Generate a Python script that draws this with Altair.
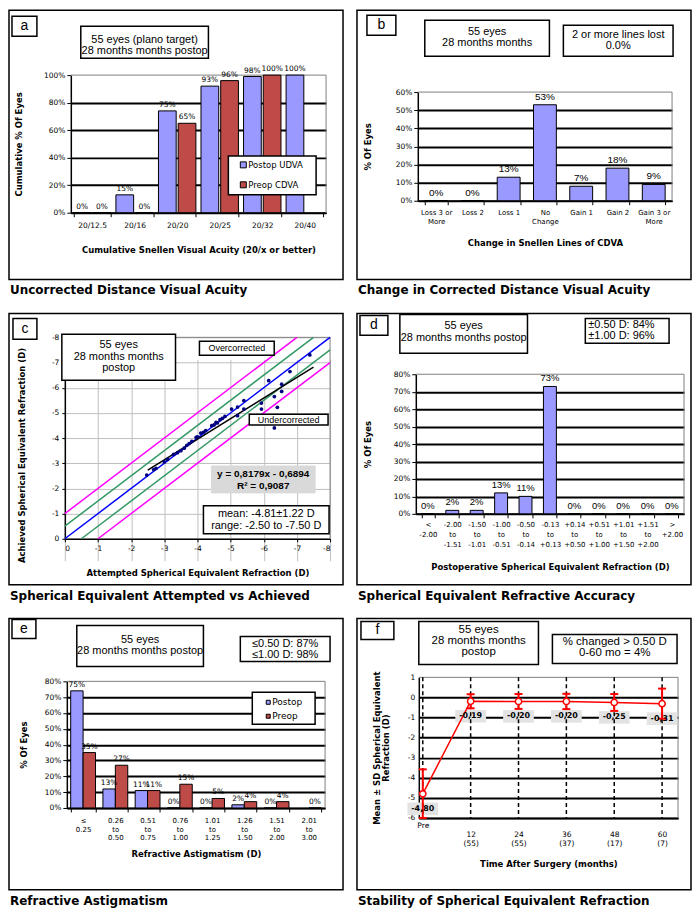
import altair as alt
import pandas as pd

BLUE = "#9999FF"
RED = "#BE4B48"
SANS = "Liberation Sans"
VER = "DejaVu Sans"
SERIES = ["Postop", "Preop"]

# ---------------- data ----------------
A_CATS = ["20/12.5", "20/16", "20/20", "20/25", "20/32", "20/40"]
A_POSTOP = [0, 13, 74, 92, 99, 100]
A_PREOP = [0, 0, 65, 96, 100, None]
A_POSTOP_LAB = ["0%", "15%", "75%", "93%", "98%", "100%"]
A_PREOP_LAB = ["0%", "0%", "65%", "96%", "100%", ""]

B_CATS = ["Loss 3 or|More", "Loss 2", "Loss 1", "No|Change", "Gain 1", "Gain 2", "Gain 3 or|More"]
B_VALS = [0, 0, 13, 53, 8, 18, 9]
B_LAB = ["0%", "0%", "13%", "53%", "7%", "18%", "9%"]

C_ATT = [-2.47, -2.68, -2.75, -3.00, -3.10, -3.28, -3.40, -3.50, -3.60, -3.68,
         -3.75, -3.83, -3.96, -4.00, -4.10, -4.18, -4.25, -4.43, -4.50, -4.56,
         -4.60, -4.68, -4.75, -4.83, -5.03, -5.21, -5.21, -5.40, -5.40, -5.93,
         -5.93, -6.15, -6.32, -6.41, -6.32, -6.54, -6.54, -6.79, -7.39]
C_ACH = [-2.53, -2.75, -2.80, -3.05, -3.15, -3.35, -3.42, -3.50, -3.60, -3.71,
         -3.78, -3.87, -4.03, -4.05, -4.20, -4.23, -4.30, -4.49, -4.52, -4.62,
         -4.60, -4.73, -4.78, -4.86, -5.15, -5.23, -4.89, -5.49, -5.15, -5.39,
         -5.15, -6.28, -5.65, -5.22, -4.40, -6.14, -5.85, -6.64, -7.30]
C_TREND_X = [-2.5, -7.5]
C_TREND_Y = [-2.73, -6.82]
C_LINES = [
    ("blue", "#0000FF", [0, -8], [0, -8]),
    ("g1", "#339966", [0, -7.5], [-0.5, -8]),
    ("g2", "#339966", [-0.5, -8], [0, -7.5]),
    ("m1", "#FF00FF", [0, -7], [-1, -8]),
    ("m2", "#FF00FF", [-1, -8], [0, -7]),
]
C_TICKS = [0, -1, -2, -3, -4, -5, -6, -7, -8]

D_CATS = ["<|-2.00", "-2.00|to|-1.51", "-1.50|to|-1.01", "-1.00|to|-0.51", "-0.50|to|-0.14",
          "-0.13|to|+0.13", "+0.14|to|+0.50", "+0.51|to|+1.00", "+1.01|to|+1.50",
          "+1.51|to|+2.00", ">|+2.00"]
D_VALS = [0, 2, 2, 12, 10, 73, 0, 0, 0, 0, 0]
D_LAB = ["0%", "2%", "2%", "13%", "11%", "73%", "0%", "0%", "0%", "0%", "0%"]

E_CATS = ["≤|0.25", "0.26|to|0.50", "0.51|to|0.75", "0.76|to|1.00", "1.01|to|1.25",
          "1.26|to|1.50", "1.51|to|2.00", "2.01|to|3.00"]
E_POSTOP = [74, 12, 11, 0, 0, 2, 0, None]
E_PREOP = [35, 27, 11, 15, 6, 4, 4, 0]
E_POSTOP_LAB = ["75%", "13%", "11%", "0%", "0%", "2%", "0%", ""]
E_PREOP_LAB = ["35%", "27%", "11%", "15%", "5%", "4%", "4%", "0%"]

F_MONTHS = [0, 12, 24, 36, 48, 60]
F_N = [None, 55, 55, 37, 17, 7]
F_MEAN = [-4.80, -0.19, -0.20, -0.20, -0.25, -0.31]
F_SD = [1.22, 0.35, 0.37, 0.38, 0.42, 0.75]
F_LAB = ["-4,80", "-0,19", "-0,20", "-0,20", "-0,25", "-0,31"]
F_YTICKS = [1, 0, -1, -2, -3, -4, -5, -6]

ONE = pd.DataFrame({"k": [0]})
PW = 335  # panel (frame) width


# ---------------- helpers ----------------
def rbox(x0, y0, x1, y1, fill="white", stroke="black", sw=1.0):
    return alt.Chart(ONE).mark_rect(fill=fill, stroke=stroke, strokeWidth=sw).encode(
        x=alt.value(x0), x2=alt.value(x1), y=alt.value(y0), y2=alt.value(y1))


def hline(x0, x1, y, color="#808080", sw=1.0):
    return alt.Chart(ONE).mark_rule(color=color, strokeWidth=sw).encode(
        x=alt.value(x0), x2=alt.value(x1), y=alt.value(y))


def vline(x, y0, y1, color="#808080", sw=1.0):
    return alt.Chart(ONE).mark_rule(color=color, strokeWidth=sw).encode(
        x=alt.value(x), y=alt.value(y0), y2=alt.value(y1))


def plot_border(x0, x1, y0, y1):
    return [hline(x0, x1, y0), vline(x1, y0, y1)]


def txt(x, y, lines, size=11, font=SANS, weight="normal", align="center", lh=None, color="black"):
    lh = lh if lh else size * 1.05
    out = []
    for i, s in enumerate(lines):
        out.append(alt.Chart(ONE).mark_text(fontSize=size, font=font, fontWeight=weight, align=align,
                                            baseline="middle", color=color).encode(
            x=alt.value(x), y=alt.value(y + i * lh), text=alt.value(s)))
    return out


def ptitle(H, title):
    return alt.Chart(ONE).mark_text(font=VER, fontSize=12, fontWeight="bold", align="left",
                                    baseline="alphabetic", color="black").encode(
        x=alt.value(1), y=alt.value(H + 15), text=alt.value(title))


def letter(x0, y0, x1, y1, ch):
    return [rbox(x0, y0, x1, y1, sw=1.5)] + txt((x0 + x1) / 2, (y0 + y1) / 2, [ch], size=14)


AXC = dict(labelFont=VER, labelColor="black", titleFont=VER, titleFontSize=8.5,
           titleFontWeight="bold", titleColor="black", domainColor="black", tickColor="black")


def pct_axis(title, vals, left, tx, ty, top):
    return alt.Axis(values=vals, labelExpr="datum.value + '%'", labelFontSize=7.5, grid=True,
                    gridColor="black", gridWidth=2,
                    gridOpacity=alt.condition(f"datum.value >= {top}", alt.value(0), alt.value(1)),
                    tickSize=4, labelPadding=2, title=title, titleX=tx, titleY=ty, titleAngle=270,
                    titleBaseline="middle", titleAlign="center", domainWidth=1.5, offset=-left, **AXC)


def band_axis(title, off, ty, pad, size=7.5, lh=9):
    return alt.Axis(title=title, titleY=ty, titleBaseline="middle", labelAngle=0, labelPadding=pad,
                    labelExpr="split(datum.label, '|')", labelLineHeight=lh, labelOverlap=False,
                    tickBand="extent", tickSize=4, domainWidth=1.5, labelFontSize=size, grid=False,
                    offset=off, **AXC)


col = alt.Color("series:N", scale=alt.Scale(domain=SERIES, range=[BLUE, RED]), legend=None)

# ---------------- panel a ----------------
HA = 270
AX0, AX1, AY0, AY1 = 62, 318, 65, 203
a_df = pd.DataFrame({"cat": A_CATS + A_CATS, "series": ["Postop"] * 6 + ["Preop"] * 6,
                     "val": A_POSTOP + A_PREOP, "lab": A_POSTOP_LAB + A_PREOP_LAB})
xa = alt.X("cat:N", sort=A_CATS, scale=alt.Scale(range=[AX0, AX1], paddingInner=0.12, paddingOuter=0.06),
           axis=band_axis("Cumulative Snellen Visual Acuity (20/x or better)", AY1 - HA, 37, 5))
xoa = alt.XOffset("series:N", scale=alt.Scale(domain=SERIES, paddingInner=0.1))
ya = alt.Y("val:Q", scale=alt.Scale(domain=[0, 100], nice=False, range=[AY1, AY0]),
           axis=pct_axis("Cumulative % Of Eyes", [0, 20, 40, 60, 80, 100], AX0, -52,
                         (AY0 + AY1) / 2, 100))
base_a = alt.Chart(a_df).transform_filter("isValid(datum.val)")
pa = alt.layer(
    *plot_border(AX0, AX1, AY0, AY1),
    base_a.mark_bar(stroke="black", strokeWidth=1).encode(x=xa, xOffset=xoa, y=ya, color=col),
    base_a.mark_text(font=VER, fontSize=7.5, baseline="bottom", dy=-2, color="black").encode(
        x=xa, xOffset=xoa, y=ya, text="lab:N"),
    ptitle(HA, "Uncorrected Distance Visual Acuity"),
    *letter(3, 6, 28, 26, "a"),
    rbox(72, 16, 200, 48, sw=1.5),
    *txt(136, 30, ["55 eyes (plano target)", "28 months months postop"], lh=11),
    rbox(220, 146, 308, 185, sw=1.5),
    rbox(232, 152, 238, 158, fill=BLUE),
    rbox(232, 172, 238, 178, fill=RED),
    *txt(240, 155, ["Postop UDVA"], size=8.5, font=VER, align="left"),
    *txt(240, 175, ["Preop CDVA"], size=8.5, font=VER, align="left"),
).properties(width=PW, height=HA)

# ---------------- panel b ----------------
HB = 270
BX0, BX1, BY0, BY1 = 61, 316, 82, 191
b_df = pd.DataFrame({"cat": B_CATS, "val": B_VALS, "lab": B_LAB})
xb = alt.X("cat:N", sort=B_CATS, scale=alt.Scale(range=[BX0, BX1], paddingInner=0.37, paddingOuter=0.19),
           axis=band_axis("Change in Snellen Lines of CDVA", BY1 - HB, 42, 4, size=7, lh=8.5))
yb = alt.Y("val:Q", scale=alt.Scale(domain=[0, 60], nice=False, range=[BY1, BY0]),
           axis=pct_axis("% Of Eyes", [0, 10, 20, 30, 40, 50, 60], BX0, -50, (BY0 + BY1) / 2, 60))
pb = alt.layer(
    *plot_border(BX0, BX1, BY0, BY1),
    alt.Chart(b_df).mark_bar(stroke="black", strokeWidth=1, color=BLUE).encode(x=xb, y=yb),
    alt.Chart(b_df).mark_text(font=SANS, fontSize=10, baseline="bottom", dy=-3, color="black").encode(
        x=xb, y=yb, text="lab:N"),
    ptitle(HB, "Change in Corrected Distance Visual Acuity"),
    *letter(10, 5, 39, 25, "b"),
    rbox(68, 10, 193, 46, sw=1.5),
    *txt(130.5, 22, ["55 eyes", "28 months months"], lh=11),
    rbox(207, 15, 317, 46, sw=1.5),
    *txt(262, 25, ["2 or more lines lost", "0.0%"], lh=11),
).properties(width=PW, height=HB)

# ---------------- panel c ----------------
HC = 272
CX0, CX1, CY0, CY1 = 56, 322, 24, 226
c_pts = pd.DataFrame({"att": C_ATT, "ach": C_ACH})
rows = []
for name, colr, xs, ys in C_LINES:
    for xv, yv in zip(xs, ys):
        rows.append({"grp": name, "col": colr, "att": xv, "ach": yv})
c_lines = pd.DataFrame(rows)
c_trend = pd.DataFrame({"att": C_TREND_X, "ach": C_TREND_Y})
cax = dict(values=C_TICKS, labelExpr="'' + datum.value", labelFontSize=7.5, grid=True,
           gridColor="#BFBFBF", gridWidth=1, tickSize=3, labelPadding=3, domainWidth=1.5, **AXC)
xc = alt.X("att:Q", scale=alt.Scale(domain=[0, -8], nice=False, zero=False, range=[CX0, CX1]),
           axis=alt.Axis(title="Attempted Spherical Equivalent Refraction (D)", titleY=34,
                         titleBaseline="middle", offset=CY1 - HC, **cax))
yc = alt.Y("ach:Q", scale=alt.Scale(domain=[0, -8], nice=False, zero=False, range=[CY1, CY0]),
           axis=alt.Axis(title="Achieved Spherical Equivalent Refraction (D)", titleX=-43,
                         titleY=CY0 + 118, titleAngle=270, titleBaseline="middle", titleAlign="center",
                         offset=-CX0, **cax))
line_layers = []
for colr in ["#339966", "#FF00FF", "#0000FF"]:
    line_layers.append(alt.Chart(c_lines).transform_filter(f"datum.col == '{colr}'").mark_line(
        color=colr, strokeWidth=1.5).encode(x=xc, y=yc, detail="grp:N"))
pc = alt.layer(
    *plot_border(CX0, CX1, CY0, CY1),
    *line_layers,
    alt.Chart(c_trend).mark_line(color="black", strokeWidth=1.5).encode(x=xc, y=yc),
    alt.Chart(c_pts).mark_circle(size=14, color="#000080", opacity=1).encode(x=xc, y=yc),
    ptitle(HC, "Spherical Equivalent Attempted vs Achieved"),
    *letter(4, 5, 28, 26, "c"),
    rbox(53, 21, 167, 67, sw=1.5),
    *txt(110, 32, ["55 eyes", "28 months months", "postop"], lh=11.5),
    rbox(191, 28, 266, 42, sw=1.5),
    *txt(228.5, 35, ["Overcorrected"], size=9),
    rbox(241, 101, 320, 112, sw=1.5),
    *txt(280.5, 106.5, ["Undercorrected"], size=9),
    rbox(203, 153, 307, 180, fill="#D9D9D9", stroke="#D9D9D9"),
    *txt(255, 161, ["y = 0,8179x - 0,6894", "R² = 0,9087"], size=10, weight="bold", lh=12),
    rbox(195, 193, 321, 221, sw=1.5),
    *txt(258, 201, ["mean: -4.81±1.22 D", "range: -2.50 to -7.50 D"], lh=12),
).properties(width=PW, height=HC)

# ---------------- panel d ----------------
HD = 272
DX0, DX1, DY0, DY1 = 59, 328, 61, 201
d_df = pd.DataFrame({"cat": D_CATS, "val": D_VALS, "lab": D_LAB})
xd = alt.X("cat:N", sort=D_CATS, scale=alt.Scale(range=[DX0, DX1], paddingInner=0.47, paddingOuter=0.23),
           axis=band_axis("Postoperative Spherical Equivalent Refraction (D)", DY1 - HD, 53, 3,
                          size=7, lh=10))
yd = alt.Y("val:Q", scale=alt.Scale(domain=[0, 80], nice=False, range=[DY1, DY0]),
           axis=pct_axis("% Of Eyes", [0, 10, 20, 30, 40, 50, 60, 70, 80], DX0, -48,
                         (DY0 + DY1) / 2, 80))
pd_ = alt.layer(
    *plot_border(DX0, DX1, DY0, DY1),
    alt.Chart(d_df).mark_bar(stroke="black", strokeWidth=1, color=BLUE).encode(x=xd, y=yd),
    alt.Chart(d_df).mark_text(font=SANS, fontSize=9.5, baseline="bottom", dy=-3, color="black").encode(
        x=xd, y=yd, text="lab:N"),
    ptitle(HD, "Spherical Equivalent Refractive Accuracy"),
    *letter(3, 2, 31, 22, "d"),
    rbox(43, 1, 171, 40, sw=1.5),
    *txt(107, 13, ["55 eyes", "28 months months postop"], lh=12),
    rbox(229, 5, 313, 30, sw=1.5),
    *txt(232, 12, ["±0.50 D: 84%", "±1.00 D: 96%"], align="left", lh=11),
).properties(width=PW, height=HD)

# ---------------- panel e ----------------
HE = 272
EX0, EX1, EY0, EY1 = 58, 317, 63, 190
e_df = pd.DataFrame({"cat": E_CATS + E_CATS, "series": ["Postop"] * 8 + ["Preop"] * 8,
                     "val": E_POSTOP + E_PREOP, "lab": E_POSTOP_LAB + E_PREOP_LAB})
xe = alt.X("cat:N", sort=E_CATS, scale=alt.Scale(range=[EX0, EX1], paddingInner=0.23, paddingOuter=0.12),
           axis=band_axis("Refractive Astigmatism (D)", EY1 - HE, 46, 5, size=7, lh=8.5))
xoe = alt.XOffset("series:N", scale=alt.Scale(domain=SERIES, paddingInner=0.0))
ye = alt.Y("val:Q", scale=alt.Scale(domain=[0, 80], nice=False, range=[EY1, EY0]),
           axis=pct_axis("% Of Eyes", [0, 10, 20, 30, 40, 50, 60, 70, 80], EX0, -43,
                         (EY0 + EY1) / 2, 80))
base_e = alt.Chart(e_df).transform_filter("isValid(datum.val)")
pe = alt.layer(
    *plot_border(EX0, EX1, EY0, EY1),
    base_e.mark_bar(stroke="black", strokeWidth=1).encode(x=xe, xOffset=xoe, y=ye, color=col),
    base_e.mark_text(font=VER, fontSize=7.5, baseline="bottom", dy=-2, color="black").encode(
        x=xe, xOffset=xoe, y=ye, text="lab:N"),
    ptitle(HE, "Refractive Astigmatism"),
    *letter(3, 1, 27, 20, "e"),
    rbox(68, 7, 195, 48, sw=1.5),
    *txt(131.5, 22, ["55 eyes", "28 months months postop"], lh=11),
    rbox(232, 18, 322, 43, sw=1.5),
    *txt(277, 26, ["≤0.50 D: 87%", "≤1.00 D: 98%"], lh=11),
    rbox(244, 74, 307, 106, sw=1.5),
    rbox(258, 82, 262, 86, fill=BLUE),
    rbox(258, 96, 262, 100, fill=RED),
    *txt(264, 84, ["Postop"], size=9, font=VER, align="left"),
    *txt(264, 98, ["Preop"], size=9, font=VER, align="left"),
).properties(width=PW, height=HE)

# ---------------- panel f ----------------
HF = 272
FX0, FX1, FY0, FY1 = 62, 322, 59, 200
f_df = pd.DataFrame({"m": F_MONTHS, "mean": F_MEAN, "sd": F_SD, "lab": F_LAB})
conds = []
for mth, n in zip(F_MONTHS, F_N):
    if n is None:
        conds.append(f"datum.value == {mth} ? 'Pre'")
    else:
        conds.append(f"datum.value == {mth} ? ['', '{mth}', '({n})']")
f_label_expr = " : ".join(conds) + " : ''"
xf = alt.X("m:Q", scale=alt.Scale(domain=[-1, 64], nice=False, zero=False, range=[FX0, FX1]),
           axis=alt.Axis(values=F_MONTHS, labelExpr=f_label_expr, labelLineHeight=9, labelPadding=4,
                         labelFontSize=7.5, tickSize=0, grid=False, domainWidth=1.5,
                         title="Time After Surgery (months)", titleY=46, titleBaseline="middle",
                         offset=FY1 - HF, **AXC))
yf_axis = alt.Axis(values=F_YTICKS, labelExpr="'' + datum.value", labelFontSize=7.5, grid=True,
                   gridColor="black", gridWidth=2,
                   gridOpacity=alt.condition("datum.value >= 1", alt.value(0), alt.value(1)),
                   tickSize=0, labelPadding=4, domainWidth=1.5,
                   title=["Mean ± SD Spherical Equivalent", "Refraction (D)"], titleLineHeight=9,
                   titleX=-42, titleY=(FY0 + FY1) / 2, titleAngle=270, titleBaseline="middle",
                   titleAlign="center", offset=-FX0, **AXC)
yscale_f = alt.Scale(domain=[-6, 1], nice=False, zero=False, clamp=True, range=[FY1, FY0])
yf = alt.Y("mean:Q", scale=yscale_f, axis=yf_axis)
base_f = alt.Chart(f_df).transform_calculate(lo="datum.mean - datum.sd", hi="datum.mean + datum.sd")
BG = "M-1.1,-0.45L1.1,-0.45L1.1,0.45L-1.1,0.45Z"
CAP = "M-1,0L1,0"
pf = alt.layer(
    *plot_border(FX0, FX1, FY0, FY1),
    base_f.mark_point(shape=BG, filled=True, color="#E3E3E3", opacity=1, size=784, yOffset=15).encode(
        x=xf, y=yf),
    base_f.mark_rule(color="black", strokeWidth=1.5, strokeDash=[4, 3]).encode(
        x=xf, y=alt.value(FY0), y2=alt.value(FY1)),
    base_f.mark_rule(color="#FF0000", strokeWidth=2).encode(
        x=xf, y=alt.Y("lo:Q", scale=yscale_f, axis=yf_axis), y2="hi:Q"),
    base_f.mark_point(shape=CAP, size=64, color="#FF0000", strokeWidth=2, filled=False,
                      opacity=1).encode(x=xf, y=alt.Y("lo:Q", scale=yscale_f, axis=yf_axis)),
    base_f.mark_point(shape=CAP, size=64, color="#FF0000", strokeWidth=2, filled=False,
                      opacity=1).encode(x=xf, y=alt.Y("hi:Q", scale=yscale_f, axis=yf_axis)),
    base_f.mark_line(color="#FF0000", strokeWidth=1.5).encode(x=xf, y=yf),
    base_f.mark_point(shape="circle", filled=True, fill="white", stroke="#FF0000", strokeWidth=1.5,
                      size=40, opacity=1).encode(x=xf, y=yf),
    base_f.mark_text(font=VER, fontSize=8, fontWeight="bold", dy=15, color="black").encode(
        x=xf, y=yf, text="lab:N"),
    ptitle(HF, "Stability of Spherical Equivalent Refraction"),
    *letter(4, 3, 37, 21, "f"),
    rbox(62, 3, 182, 46, sw=1.5),
    *txt(122, 12, ["55 eyes", "28 months months", "postop"], size=11.5, lh=11),
    rbox(196, 16, 321, 45, sw=1.5),
    *txt(258.5, 24, ["% changed > 0.50 D", "0-60 mo = 4%"], size=11.5, lh=11),
).properties(width=PW, height=HF)

# ---------------- assemble ----------------
row1 = alt.hconcat(pa, pb, spacing=12).resolve_scale(xOffset="independent", x="independent", y="independent")
row2 = alt.hconcat(pc, pd_, spacing=12).resolve_scale(x="independent", y="independent")
row3 = alt.hconcat(pe, pf, spacing=12).resolve_scale(xOffset="independent", x="independent", y="independent")

chart = alt.vconcat(row1, row2, row3, spacing=15).resolve_scale(
    xOffset="independent", x="independent", y="independent"
).properties(padding=0, background="white").configure_view(stroke="black", strokeWidth=1.5)

chart.save("out.html", embed_options={"renderer": "svg", "actions": False})
